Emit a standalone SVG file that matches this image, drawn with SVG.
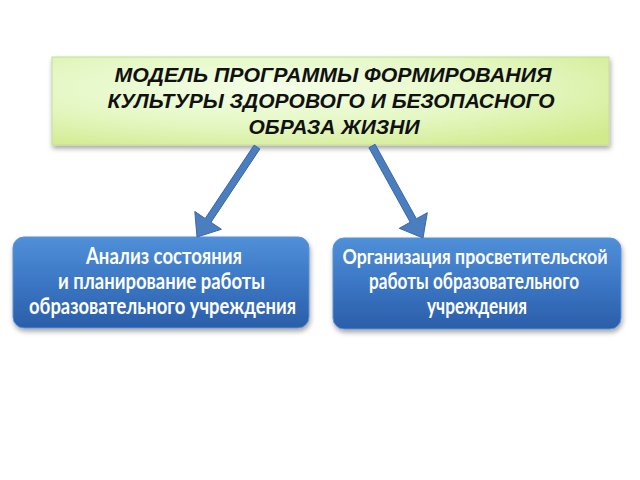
<svg xmlns="http://www.w3.org/2000/svg" width="640" height="480" viewBox="0 0 640 480">
<defs>
<radialGradient id="gTop" cx="0.4" cy="0.35" r="0.8">
<stop offset="0" stop-color="#f4ffe8"/>
<stop offset="0.55" stop-color="#e4f7c2"/>
<stop offset="1" stop-color="#d0ea8c"/>
</radialGradient>
<linearGradient id="gBlue" x1="0" y1="0" x2="0" y2="1">
<stop offset="0" stop-color="#5090d8"/>
<stop offset="0.5" stop-color="#3b76c4"/>
<stop offset="1" stop-color="#2b5ea9"/>
</linearGradient>
<filter id="sh" x="-10%" y="-20%" width="120%" height="150%">
<feDropShadow dx="1" dy="3" stdDeviation="2.5" flood-color="#000" flood-opacity="0.35"/>
</filter>
</defs>
<style>
.top{fill:url(#gTop);stroke:#c6dc9a;stroke-width:1}
.blue{fill:url(#gBlue);stroke:#5a92d6;stroke-width:1}
.tt{font-family:"Liberation Sans",Arial,sans-serif;font-weight:bold;font-style:italic;font-size:21px;fill:#111;text-anchor:middle}
.bt{font-family:Lato,"Open Sans",sans-serif;font-weight:bold;font-size:22px;fill:#fff;text-anchor:middle}
.arr{fill:#4a7ebf;stroke:#3a68a8;stroke-width:1}
</style>
<rect width="640" height="480" fill="#fff"/>
<g id="top">
<rect class="top" x="52" y="57" width="557" height="88" filter="url(#sh)"/>
<text class="tt" x="333" y="82" textLength="437" lengthAdjust="spacingAndGlyphs">МОДЕЛЬ ПРОГРАММЫ ФОРМИРОВАНИЯ</text>
<text class="tt" x="331" y="108" textLength="447" lengthAdjust="spacingAndGlyphs">КУЛЬТУРЫ ЗДОРОВОГО И БЕЗОПАСНОГО</text>
<text class="tt" x="334" y="134">ОБРАЗА ЖИЗНИ</text>
</g>
<g id="left">
<rect class="blue" x="13" y="237" width="296" height="91" rx="11" filter="url(#sh)"/>
<text class="bt" x="164" y="264" textLength="156" lengthAdjust="spacingAndGlyphs">Анализ состояния</text>
<text class="bt" x="161.5" y="289" textLength="207" lengthAdjust="spacingAndGlyphs">и планирование работы</text>
<text class="bt" x="162.5" y="314" textLength="267" lengthAdjust="spacingAndGlyphs">образовательного учреждения</text>
</g>
<g id="right">
<rect class="blue" x="333" y="238" width="288" height="91" rx="11" filter="url(#sh)"/>
<text class="bt" x="475" y="264" style="font-size:21px" textLength="265" lengthAdjust="spacingAndGlyphs">Организация просветительской</text>
<text class="bt" x="474" y="289" textLength="210" lengthAdjust="spacingAndGlyphs">работы образовательного</text>
<text class="bt" x="477" y="314" textLength="100" lengthAdjust="spacingAndGlyphs">учреждения</text>
</g>
<g id="connectors">
<polygon class="arr" points="259.9,148.9 211.0,222.3 221.4,229.3 197,237 194.8,211.5 205.2,218.5 254.1,145.1"/>
<polygon class="arr" points="375.1,144.3 416.4,218.8 427.3,212.7 423,238 399.3,228.3 410.2,222.2 368.9,147.7"/>
</g>
</svg>
